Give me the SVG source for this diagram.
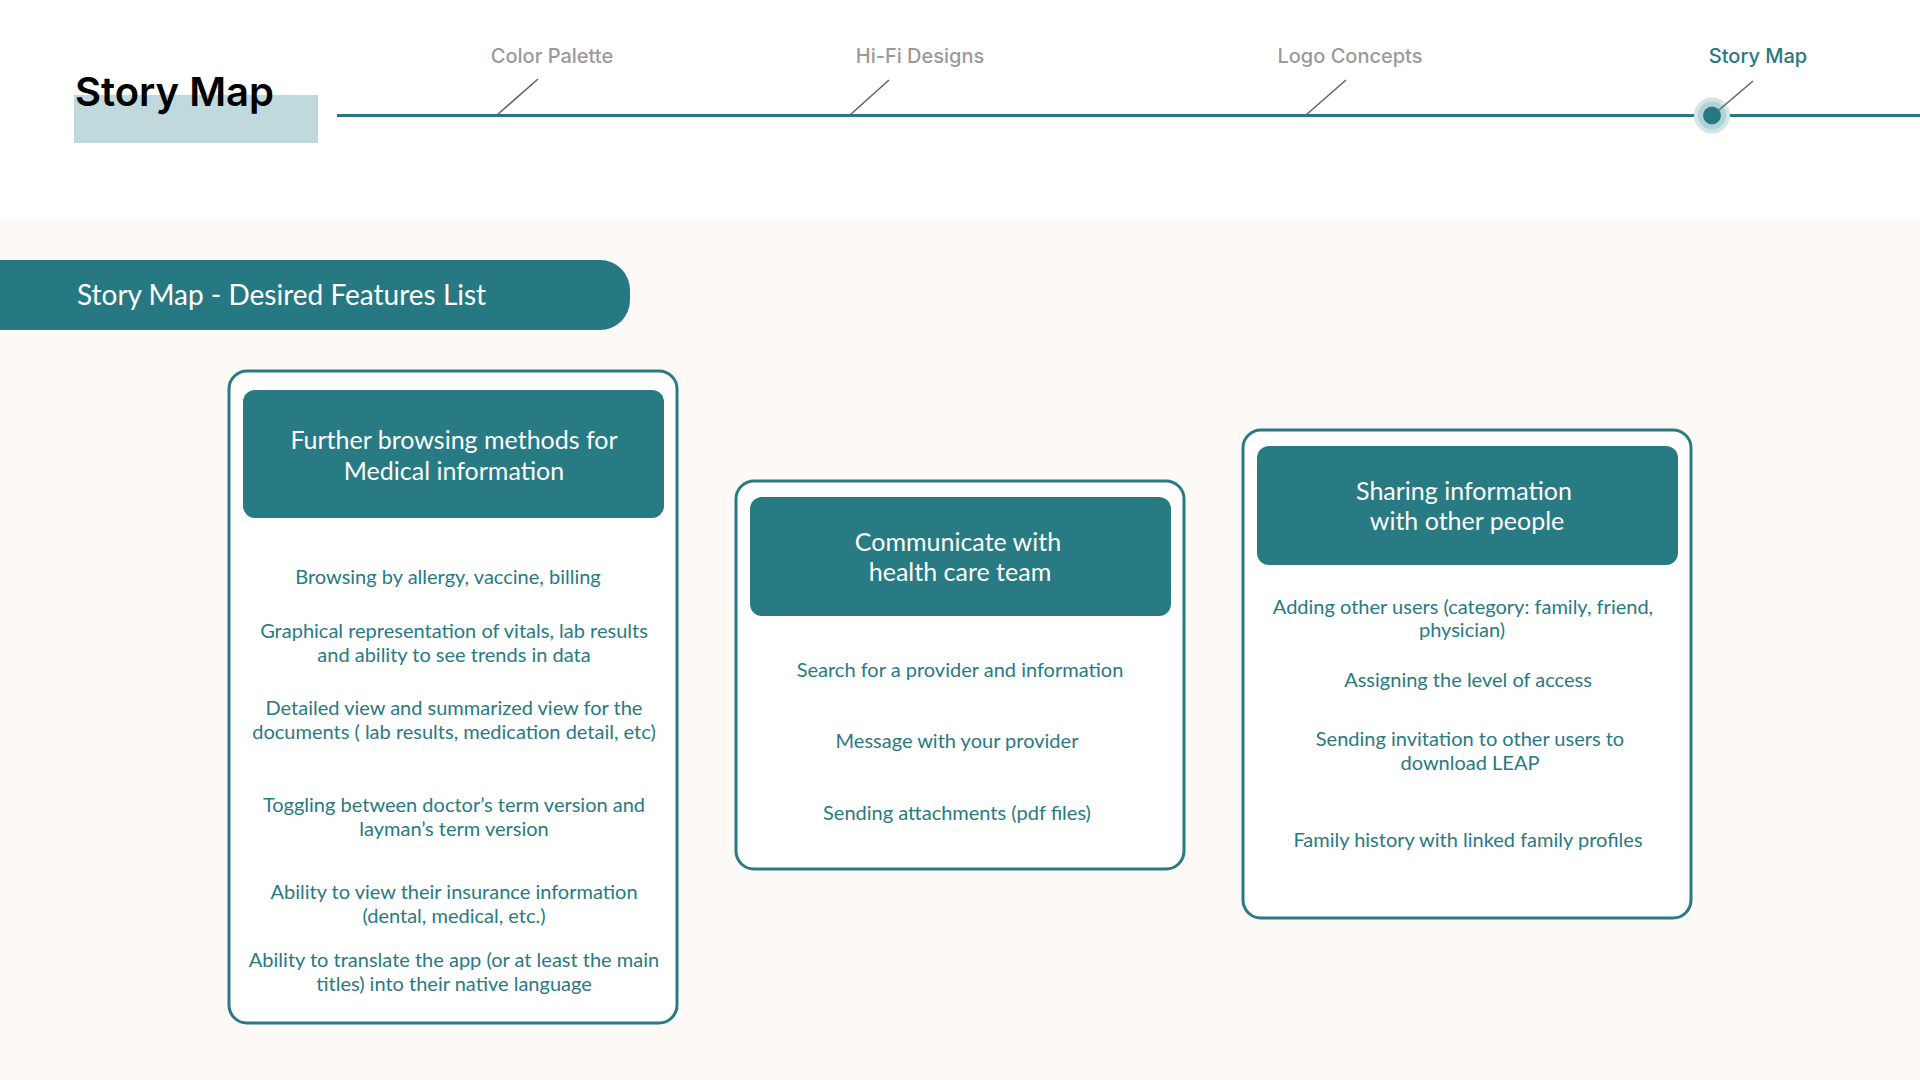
<svg xmlns="http://www.w3.org/2000/svg" width="1920" height="1080" viewBox="0 0 1920 1080">
<style>
.tl{font-family:Inter,"Liberation Sans",sans-serif;font-weight:500;font-size:20px;fill:#9a9a9a;text-anchor:middle}
.tick{stroke:#666;stroke-width:1.6;fill:none}
.card{fill:#fff;stroke:#287a83;stroke-width:3}
.hdr{fill:#287a83}
.ht{font-family:Lato,"Liberation Sans",sans-serif;font-size:25px;fill:#fff;text-anchor:middle}
.it{font-family:Lato,"Liberation Sans",sans-serif;font-size:20px;fill:#287a83;text-anchor:middle}
</style>
<rect x="0" y="0" width="1920" height="1080" fill="#ffffff"/>
<rect x="0" y="219" width="1920" height="861" fill="#fdf9f6"/>
<g id="title">
<rect x="74" y="95" width="244" height="48" fill="#bfd9dc"/>
<text x="75" y="106" font-family="Inter,'Liberation Sans',sans-serif" font-weight="600" font-size="40" fill="#000">Story Map</text>
</g>
<g id="timeline">
<line x1="337" y1="115.5" x2="1920" y2="115.5" stroke="#267983" stroke-width="3"/>
<line class="tick" x1="497" y1="115" x2="538" y2="79"/>
<line class="tick" x1="850" y1="115" x2="889" y2="80"/>
<line class="tick" x1="1306" y1="115" x2="1346" y2="80"/>
<circle cx="1712" cy="115.5" r="18" fill="#d2e5e7"/>
<circle cx="1712" cy="115.5" r="14" fill="#b3d2d5"/>
<circle cx="1712" cy="115.5" r="9" fill="#267983"/>
<line class="tick" x1="1719" y1="110" x2="1753" y2="81"/>
<text class="tl" x="552" y="63">Color Palette</text>
<text class="tl" x="920" y="63">Hi-Fi Designs</text>
<text class="tl" x="1350" y="63">Logo Concepts</text>
<text class="tl" x="1758" y="63" style="fill:#267983">Story Map</text>
</g>
<g id="banner">
<path d="M0 260 H600 A30 30 0 0 1 630 290 V300 A30 30 0 0 1 600 330 H0 Z" fill="#267983"/>
<text x="77" y="305" font-family="Lato,'Liberation Sans',sans-serif" font-size="28" fill="#fff">Story Map - Desired Features List</text>
</g>
<g id="card-medical">
<rect class="card" x="229" y="371" width="448" height="652" rx="18"/>
<rect class="hdr" x="243" y="390" width="421" height="128" rx="12"/>
<text class="ht" x="454" y="449">Further browsing methods for</text>
<text class="ht" x="454" y="480">Medical information</text>
<text class="it" x="448" y="584">Browsing by allergy, vaccine, billing</text>
<text class="it" x="454" y="638">Graphical representation of vitals, lab results</text>
<text class="it" x="454" y="662">and ability to see trends in data</text>
<text class="it" x="454" y="715">Detailed view and summarized view for the</text>
<text class="it" x="454" y="739">documents ( lab results, medication detail, etc)</text>
<text class="it" x="454" y="812">Toggling between doctor’s term version and</text>
<text class="it" x="454" y="836">layman’s term version</text>
<text class="it" x="454" y="899">Ability to view their insurance information</text>
<text class="it" x="454" y="923">(dental, medical, etc.)</text>
<text class="it" x="454" y="967">Ability to translate the app (or at least the main</text>
<text class="it" x="454" y="991">titles) into their native language</text>
</g>
<g id="card-communicate">
<rect class="card" x="736" y="481" width="448" height="388" rx="18"/>
<rect class="hdr" x="750" y="497" width="421" height="119" rx="12"/>
<text class="ht" x="958" y="551">Communicate with</text>
<text class="ht" x="960" y="581">health care team</text>
<text class="it" x="960" y="677">Search for a provider and information</text>
<text class="it" x="957" y="748">Message with your provider</text>
<text class="it" x="957" y="820">Sending attachments (pdf files)</text>
</g>
<g id="card-sharing">
<rect class="card" x="1243" y="430" width="448" height="488" rx="18"/>
<rect class="hdr" x="1257" y="446" width="421" height="119" rx="12"/>
<text class="ht" x="1464" y="500">Sharing information</text>
<text class="ht" x="1467" y="530">with other people</text>
<text class="it" x="1463" y="614">Adding other users (category: family, friend,</text>
<text class="it" x="1462" y="637">physician)</text>
<text class="it" x="1468" y="687">Assigning the level of access</text>
<text class="it" x="1470" y="746">Sending invitation to other users to</text>
<text class="it" x="1470" y="770">download LEAP</text>
<text class="it" x="1468" y="847">Family history with linked family profiles</text>
</g>
<g id="connectors"></g>
</svg>
